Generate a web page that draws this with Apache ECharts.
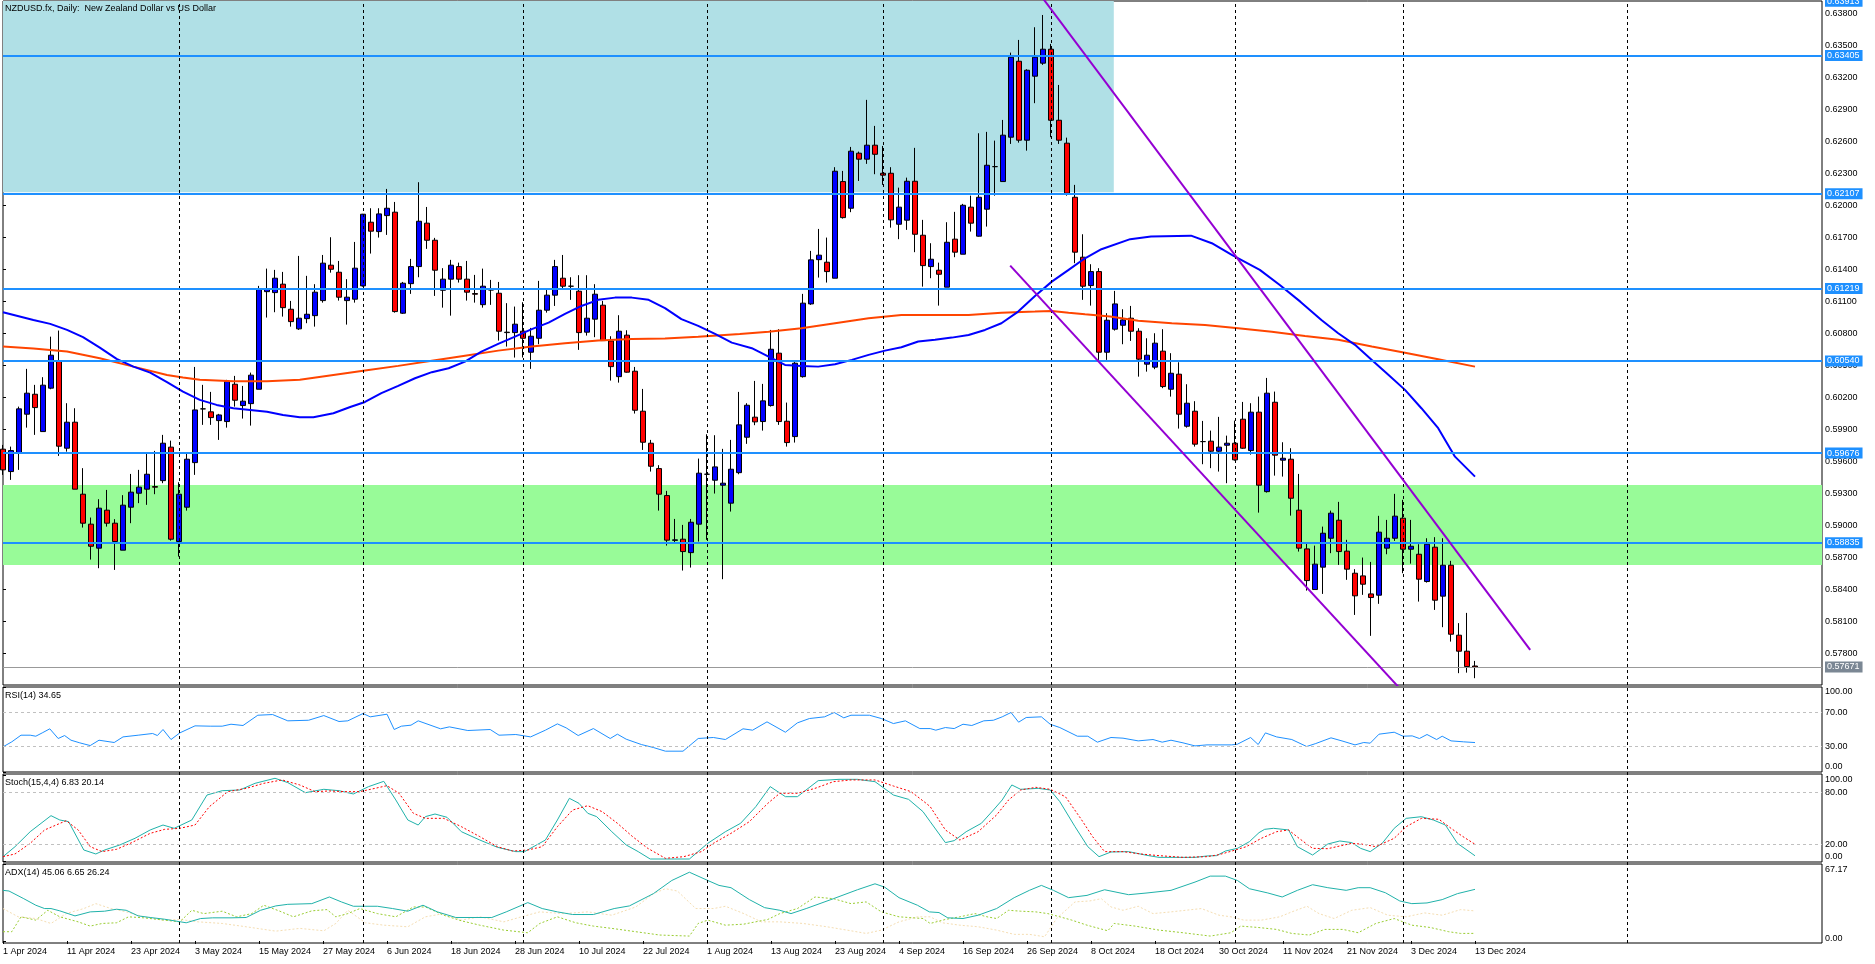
<!DOCTYPE html>
<html><head><meta charset="utf-8">
<script src="https://cdn.jsdelivr.net/npm/echarts@6/dist/echarts.min.js"></script>
<style>html,body{margin:0;padding:0;background:#fff}#c{width:1875px;height:964px}</style>
</head><body><div id="c"></div>
<script>
// ---------------- data ----------------
const xLabels = ['1 Apr 2024','11 Apr 2024','23 Apr 2024','3 May 2024','15 May 2024','27 May 2024','6 Jun 2024','18 Jun 2024','28 Jun 2024','10 Jul 2024','22 Jul 2024','1 Aug 2024','13 Aug 2024','23 Aug 2024','4 Sep 2024','16 Sep 2024','26 Sep 2024','8 Oct 2024','18 Oct 2024','30 Oct 2024','11 Nov 2024','21 Nov 2024','3 Dec 2024','13 Dec 2024'];
const monthStarts = [22,45,65,88,110,131,154,175,203];

const opens = [0.59713,0.59503,0.59681,0.60041,0.60228,0.59878,0.60285,0.60543,0.59722,0.59966,
0.59291,0.59010,0.58785,0.59141,0.59019,0.58766,0.59169,0.59300,0.59338,0.59362,
0.59418,0.59732,0.58847,0.59169,0.59587,0.60091,0.60063,0.59981,0.59972,0.60322,
0.60122,0.60140,0.60275,0.61190,0.61181,0.61260,0.61025,0.60841,0.60937,0.60965,
0.61106,0.61438,0.61372,0.61106,0.61119,0.61244,0.61841,0.61753,0.61903,0.61935,
0.60988,0.61265,0.61425,0.61832,0.61672,0.61203,0.61307,0.61425,0.61307,0.61172,
0.61068,0.61206,0.61175,0.60806,0.60806,0.60819,0.60622,0.60753,0.61016,0.61157,
0.61316,0.61241,0.61194,0.60810,0.60932,0.61063,0.60728,0.60393,0.60782,0.60444,
0.60069,0.59769,0.59531,0.59278,0.58858,0.58869,0.58743,0.59010,0.59478,0.59422,
0.59375,0.59207,0.59493,0.59825,0.60013,0.59972,0.60122,0.60613,0.59975,0.59831,
0.60393,0.61075,0.61490,0.61466,0.61316,0.62222,0.61972,0.62488,0.62432,0.62563,
0.62300,0.62300,0.61822,0.61860,0.62225,0.61719,0.61425,0.61391,0.61232,0.61682,
0.61541,0.61982,0.61710,0.61963,0.62362,0.62222,0.62638,0.63350,0.62610,0.63210,
0.63332,0.63463,0.62797,0.62582,0.62075,0.61513,0.61247,0.61378,0.60622,0.60838,
0.60875,0.60941,0.60819,0.60510,0.60482,0.60632,0.60275,0.60416,0.59928,0.60069,
0.59784,0.59788,0.59694,0.59750,0.59769,0.59994,0.59700,0.60060,0.59315,0.60153,
0.59610,0.59619,0.59141,0.58778,0.58397,0.58607,0.58878,0.59047,0.58757,0.58550,
0.58525,0.58356,0.58344,0.58785,0.58878,0.59066,0.58775,0.58728,0.58472,0.58794,
0.58335,0.58625,0.57969,0.57819,0.57680];
const closes = [0.59519,0.59700,0.60091,0.60238,0.60103,0.60313,0.60594,0.59741,0.59966,0.59338,
0.59019,0.58803,0.59160,0.59019,0.58847,0.59188,0.59310,0.59357,0.59478,0.59357,
0.59769,0.58869,0.59291,0.59619,0.60081,0.60091,0.60009,0.60034,0.60347,0.60172,
0.60163,0.60407,0.61213,0.61213,0.61316,0.61040,0.60909,0.60941,0.60978,0.61185,
0.61457,0.61400,0.61138,0.61138,0.61410,0.61916,0.61757,0.61919,0.61972,0.61003,
0.61269,0.61425,0.61850,0.61672,0.61391,0.61307,0.61438,0.61307,0.61185,0.61166,
0.61241,0.61206,0.60819,0.60810,0.60885,0.60753,0.60772,0.61016,0.61157,0.61425,
0.61241,0.61241,0.60806,0.60941,0.61166,0.60731,0.60487,0.60819,0.60435,0.60078,
0.59778,0.59553,0.59291,0.58860,0.58863,0.58753,0.59028,0.59488,0.59478,0.59547,
0.59394,0.59525,0.59941,0.60125,0.59969,0.60166,0.60650,0.59972,0.59775,0.60519,
0.61082,0.61488,0.61532,0.61378,0.62319,0.61884,0.62507,0.62432,0.62563,0.62478,
0.62282,0.61863,0.61982,0.62225,0.61728,0.61434,0.61494,0.61353,0.61653,0.61560,
0.62000,0.61832,0.62075,0.62375,0.62362,0.62657,0.63388,0.62610,0.63266,0.63388,
0.63463,0.62797,0.62610,0.62113,0.61560,0.61241,0.61378,0.60622,0.60922,0.61075,
0.60925,0.60819,0.60557,0.60594,0.60707,0.60300,0.60425,0.60041,0.60144,0.59760,
0.59784,0.59694,0.59732,0.59769,0.59613,0.59722,0.60060,0.59375,0.60238,0.59657,
0.59628,0.59253,0.58785,0.58481,0.58635,0.58925,0.59113,0.58753,0.58588,0.58338,
0.58447,0.58322,0.58935,0.58878,0.59085,0.58775,0.58803,0.58494,0.58822,0.58297,
0.58625,0.57978,0.57819,0.57675,0.57671];
const lows = [0.59472,0.59425,0.59519,0.59915,0.59847,0.59878,0.60275,0.59650,0.59690,0.59338,
0.58978,0.58678,0.58597,0.58987,0.58581,0.58766,0.59019,0.59207,0.59191,0.59291,
0.59394,0.58856,0.58706,0.59137,0.59472,0.59941,0.59941,0.59800,0.59915,0.60112,
0.60000,0.59934,0.60275,0.60947,0.60997,0.60956,0.60862,0.60831,0.60894,0.60862,
0.61087,0.61368,0.61106,0.60881,0.61087,0.61237,0.61547,0.61697,0.61722,0.60993,
0.60981,0.61169,0.61325,0.61591,0.61150,0.61040,0.60965,0.61275,0.61106,0.61087,
0.61040,0.61066,0.60731,0.60675,0.60572,0.60572,0.60466,0.60697,0.60993,0.61056,
0.61222,0.61113,0.60644,0.60778,0.60763,0.60728,0.60356,0.60337,0.60431,0.60047,
0.59706,0.59503,0.59137,0.58809,0.58832,0.58575,0.58603,0.58847,0.58863,0.59297,
0.58494,0.59128,0.59478,0.59763,0.59938,0.59887,0.60112,0.59941,0.59737,0.59775,
0.60384,0.61066,0.61322,0.61275,0.61316,0.61875,0.61935,0.62228,0.62388,0.62291,
0.62191,0.61790,0.61682,0.61769,0.61560,0.61237,0.61316,0.61059,0.61232,0.61513,
0.61541,0.61753,0.61706,0.61800,0.62090,0.62222,0.62575,0.62587,0.62512,0.62957,
0.63316,0.62638,0.62575,0.62090,0.61457,0.61113,0.61059,0.60550,0.60550,0.60825,
0.60697,0.60728,0.60393,0.60440,0.60463,0.60285,0.60206,0.59906,0.59915,0.59737,
0.59572,0.59535,0.59503,0.59394,0.59606,0.59716,0.59662,0.59118,0.59306,0.59465,
0.59456,0.59090,0.58753,0.58387,0.58397,0.58356,0.58738,0.58628,0.58488,0.58159,
0.58347,0.57963,0.58263,0.58728,0.58853,0.58550,0.58640,0.58284,0.58462,0.58206,
0.58044,0.57909,0.57613,0.57618,0.57566];
const highs = [0.59753,0.59737,0.60112,0.60466,0.60316,0.60388,0.60768,0.60825,0.60144,0.60097,
0.59535,0.59072,0.59244,0.59331,0.59057,0.59282,0.59481,0.59519,0.59675,0.59697,
0.59847,0.59793,0.59403,0.59669,0.60484,0.60316,0.60250,0.60044,0.60363,0.60400,
0.60306,0.60431,0.61244,0.61406,0.61394,0.61375,0.61103,0.61525,0.61338,0.61260,
0.61534,0.61700,0.61478,0.61307,0.61656,0.61919,0.61972,0.61972,0.62153,0.62031,
0.61281,0.61497,0.62216,0.61984,0.61694,0.61410,0.61488,0.61462,0.61478,0.61347,
0.61406,0.61300,0.61281,0.61082,0.61050,0.61091,0.60850,0.61291,0.61206,0.61488,
0.61534,0.61325,0.61344,0.61344,0.61260,0.61103,0.60772,0.60969,0.60828,0.60484,
0.60278,0.59800,0.59563,0.59322,0.59059,0.59003,0.59059,0.59625,0.59853,0.59844,
0.59716,0.59800,0.60250,0.60144,0.60353,0.60325,0.60831,0.60838,0.60150,0.60534,
0.61169,0.61572,0.61778,0.61697,0.62357,0.62322,0.62547,0.62503,0.62988,0.62744,
0.62556,0.62357,0.62165,0.62259,0.62538,0.61863,0.61644,0.61462,0.61841,0.61938,
0.62013,0.62090,0.62675,0.62688,0.62606,0.62800,0.63431,0.63550,0.63275,0.63669,
0.63784,0.63513,0.63128,0.62634,0.62191,0.61728,0.61447,0.61410,0.60988,0.61197,
0.61025,0.61056,0.60847,0.60753,0.60800,0.60838,0.60613,0.60528,0.60322,0.60163,
0.59978,0.59887,0.60016,0.59840,0.59981,0.60156,0.60144,0.60206,0.60381,0.60253,
0.59778,0.59722,0.59481,0.58825,0.58809,0.58987,0.59137,0.59219,0.58863,0.58588,
0.58697,0.58656,0.59088,0.59050,0.59294,0.59238,0.59050,0.58822,0.58878,0.58888,
0.58878,0.58666,0.58082,0.58178,0.57728];

const ma50 = [[0,0.60997],[3.8,0.60925],[5.9,0.60888],[8,0.60831],[10,0.60763],[12.1,0.60665],[14.2,0.60559],[16.3,0.60487],[18.4,0.60431],[20.5,0.60341],[22.5,0.60253],[24.6,0.60175],[26.7,0.60128],[28.8,0.60097],[30.9,0.60081],[33,0.60063],[35,0.60034],[37.1,0.60013],[38.8,0.60013],[41.3,0.60050],[43.4,0.60109],[45.25,0.60156],[47.3,0.60238],[49.4,0.60306],[51.5,0.60378],[53.6,0.60435],[55.7,0.60472],[57.75,0.60534],[59.8,0.60628],[61.9,0.60700],[64,0.60768],[66.1,0.60838],[68.2,0.60900],[70.25,0.60981],[72.3,0.61056],[74.4,0.61113],[76.5,0.61134],[78.6,0.61134],[80.7,0.61113],[82.75,0.61035],[84.8,0.60932],[86.9,0.60869],[89,0.60794],[91.1,0.60712],[93.6,0.60660],[95.7,0.60581],[97.75,0.60503],[99.8,0.60494],[101.9,0.60487],[104,0.60510],[106.1,0.60550],[108.2,0.60597],[110.25,0.60637],[112.3,0.60669],[114.4,0.60722],[116.5,0.60738],[118.6,0.60759],[120.7,0.60784],[122.75,0.60831],[124.8,0.60894],[126.9,0.61003],[129,0.61150],[131.1,0.61284],[133.2,0.61394],[135.25,0.61503],[137.3,0.61588],[140.9,0.61682],[143.5,0.61706],[148.5,0.61715],[151.1,0.61644],[153.6,0.61534],[157.1,0.61394],[159.6,0.61253],[162.2,0.61094],[164.8,0.60925],[166.9,0.60800],[169,0.60691],[171.1,0.60550],[173.2,0.60409],[175.25,0.60269],[177.3,0.60097],[179.4,0.59910],[181.5,0.59643],[184,0.59456]];
const ma200 = [[0,0.60675],[3.8,0.60656],[8,0.60628],[12.1,0.60566],[16.3,0.60487],[20.5,0.60409],[22.5,0.60384],[24.6,0.60363],[28.8,0.60350],[33,0.60350],[37.1,0.60365],[41.3,0.60409],[45.25,0.60450],[49.4,0.60494],[53.6,0.60543],[57.75,0.60590],[61.9,0.60637],[66.1,0.60675],[70.25,0.60707],[74.4,0.60731],[78.6,0.60747],[82.75,0.60750],[86.9,0.60768],[92.1,0.60794],[95.7,0.60815],[99.8,0.60847],[104,0.60894],[108.2,0.60941],[112.3,0.60972],[116.5,0.60972],[120.7,0.60972],[124.8,0.60993],[129,0.61003],[131.1,0.61009],[133.2,0.60993],[135.25,0.60978],[138.4,0.60958],[141.9,0.60918],[146.1,0.60894],[150.25,0.60878],[154.4,0.60847],[158.6,0.60815],[162.75,0.60775],[166.9,0.60738],[171.1,0.60675],[175.25,0.60618],[179.4,0.60557],[184,0.60487]];

const priceTicks = [0.578,0.581,0.584,0.587,0.590,0.593,0.596,0.599,0.602,0.605,0.608,0.611,0.614,0.617,0.620,0.623,0.626,0.629,0.632,0.635,0.638];
const levels = [0.63405,0.62107,0.61219,0.60540,0.59676,0.58835];
const topLevel = 0.63913;
const lastPrice = 0.57671;
const blueZone = {x0: 0, x1: 138.85, y0: 0.62122, y1: 0.63915};
const greenZone = {y0: 0.58628, y1: 0.59378};
const channelUpper = [[129.5,0.63989],[190.9,0.57831]];
const channelLower = [[125.9,0.61434],[176,0.57356]];

const rsi = [[0,29.6],[1.1,35.5],[2.25,43.3],[3.4,43.3],[4.1,42.1],[4.9,46.0],[5.85,50.8],[6.9,39.4],[7.7,42.9],[8.5,37.4],[9.6,34.3],[10.9,31.1],[12,37.4],[13.9,34.7],[15,41.3],[16.9,43.3],[18.7,45.3],[19.3,42.9],[20,50.0],[21,38.2],[22.1,46.0],[24,54.3],[25.9,53.9],[27.4,53.9],[28.5,56.2],[30,54.7],[31.85,66.8],[33.7,67.6],[35.6,60.2],[38.2,60.9],[40.1,66.4],[42,59.4],[43.1,60.2],[45,68.8],[45.9,64.9],[48,68.0],[48.9,50.0],[49.8,53.9],[51,55.1],[51.9,60.2],[54.7,50.8],[55.8,53.1],[58.1,48.8],[60.9,50.0],[62,43.3],[64.1,44.1],[65.95,41.3],[67.8,49.2],[69.3,56.6],[70.4,51.9],[71.9,42.9],[73.8,51.1],[75.9,39.4],[76.8,44.5],[77.9,38.6],[79.8,32.3],[81.3,28.8],[82.8,24.5],[85,24.5],[86.9,39.4],[88.8,40.6],[90.3,38.2],[92.5,50.8],[93.7,49.2],[95.5,59.0],[97.8,46.8],[99.3,57.8],[100.8,62.9],[102.7,64.9],[103.9,70.0],[105.1,63.7],[106,66.8],[108.3,66.8],[109.8,62.9],[111.3,57.0],[112.8,60.2],[114.6,51.1],[115.9,51.1],[116.6,49.2],[117.8,52.3],[118.9,51.1],[120,56.2],[121.1,54.7],[122.6,60.2],[123.8,60.9],[124.9,64.9],[126,70.0],[126.95,58.6],[127.9,64.1],[129.8,64.9],[130.9,56.2],[132.1,52.3],[134.3,42.1],[135.6,42.1],[136.8,35.1],[138.5,40.6],[140,39.8],[141.9,36.6],[143.75,38.2],[144.9,35.1],[146,37.4],[147.5,34.3],[149,30.7],[150.5,31.9],[153.55,31.9],[154.3,32.7],[155.95,40.6],[156.9,32.3],[157.8,46.0],[159.2,41.3],[161.1,38.2],[162.96,30.0],[164.1,33.5],[166,40.2],[167.5,36.2],[169,31.9],[170.1,34.7],[170.9,33.9],[172,44.5],[173.9,46.8],[175,42.1],[176.15,42.5],[177.05,39.4],[178,44.1],[179.2,38.2],[179.9,42.1],[181,36.6],[182.55,35.5],[184,34.65]];
const stochK = [[0,5.8],[1.5,17.3],[3.4,34.6],[6,53.1],[7.1,48.1],[8.2,46.2],[10.1,13.5],[11.6,8.9],[12.7,13.5],[14.6,19.3],[16.5,27.0],[18.4,36.6],[20,42.3],[21.4,38.5],[23.6,48.1],[25.5,76.9],[27.4,81.9],[29.6,82.7],[31.5,90.4],[34,96.2],[35.6,91.2],[37.8,79.6],[40.1,83.5],[42,81.9],[43.8,78.1],[45.7,86.6],[47.6,92.7],[49.1,71.2],[50.6,48.1],[51.9,42.3],[52.8,52.0],[54,55.0],[55.5,51.2],[57.3,34.6],[59.6,25.0],[61.8,16.6],[64.1,11.6],[65.2,11.6],[67.8,25.0],[69.3,48.1],[70.8,73.1],[72,67.3],[73.1,55.8],[74.2,52.0],[76.1,34.6],[77.9,19.3],[79.4,11.6],[80.9,3.1],[85.8,3.1],[88.1,21.2],[90.3,34.6],[92.2,44.3],[94.1,63.5],[95.9,86.6],[97.8,75.0],[99.3,75.0],[101.9,93.5],[104.5,95.0],[106.8,95.0],[109,92.3],[111.3,76.9],[113.2,71.9],[115,57.7],[115.9,46.2],[117.8,22.0],[118.9,24.3],[120.4,34.6],[122.3,44.3],[123.8,59.6],[124.9,71.2],[126.1,88.5],[127.2,83.5],[129.4,84.6],[130.9,82.7],[132.1,69.3],[134,40.4],[135.6,17.3],[137,5.8],[138.5,11.2],[140.7,11.6],[143,7.3],[144.5,5.0],[149,5.0],[150.5,6.6],[151.7,7.0],[152.8,12.3],[154.3,15.4],[155.8,23.1],[157,33.5],[157.7,37.3],[158.8,38.5],[160.7,36.6],[161.8,17.3],[163.7,7.7],[165.6,20.4],[167.1,23.9],[168.6,22.0],[169.7,15.4],[170.9,11.6],[172.4,21.2],[173.9,38.5],[175.4,50.0],[177.3,51.9],[178.8,48.1],[180.3,42.3],[181.8,21.2],[184,6.83]];
const stochD = [[0,5.8],[1.5,8.9],[3.4,21.2],[5.2,36.6],[7.9,47.3],[9.4,36.6],[10.9,17.3],[12.4,11.6],[14.2,14.3],[16.1,22.0],[18.4,32.7],[20.2,37.3],[22.1,38.5],[24,42.3],[25.8,63.5],[28.1,80.8],[30.4,84.6],[32.6,90.4],[34.9,94.3],[37.1,88.5],[39,80.8],[40.8,81.6],[42.7,80.8],[44.6,80.8],[46.5,84.6],[48,87.7],[49.5,78.9],[51.3,55.8],[52.8,50.0],[55.1,50.0],[57.3,40.4],[59.6,28.9],[61.8,17.3],[63.7,12.3],[65.6,13.5],[67.4,17.3],[69.3,40.4],[71.2,59.6],[73.1,64.6],[74.9,57.7],[76.8,44.3],[78.7,28.9],[80.6,15.4],[82.8,3.9],[85.1,5.8],[87.3,11.6],[88.8,21.2],[91,32.7],[93.3,46.2],[95.6,67.3],[97.1,78.9],[99.3,78.9],[101.5,84.6],[103.8,92.3],[106,94.3],[109,94.3],[111.3,87.3],[113.5,80.8],[115.4,67.3],[115.9,63.5],[117.8,36.6],[119.6,25.0],[121.9,34.6],[124.2,53.9],[125.7,71.2],[127.2,82.7],[129.1,85.8],[130.9,83.5],[132.8,75.0],[134.7,50.0],[136.2,28.9],[137.7,11.6],[140,11.6],[142.2,8.9],[144.5,7.0],[147.5,5.0],[150.5,5.8],[152,8.1],[153.5,12.0],[155.4,17.3],[157.3,27.0],[159.2,34.6],[160.7,36.6],[162,27.0],[163.7,15.4],[165.6,15.0],[167.1,18.1],[168.6,21.2],[170.1,20.0],[171.6,17.3],[173.9,27.0],[175.4,40.4],[177.3,50.0],[179.5,48.9],[181,38.5],[182.5,28.9],[184,20.14]];
const adx = [[0,44.2],[0.75,43.6],[2.6,36.9],[4.1,31.2],[5.2,28.3],[6,28.3],[7.1,26.3],[9,21.9],[10.9,25.4],[12.7,26.0],[14.2,27.7],[15.4,26.8],[16.9,21.9],[18.4,20.5],[20.2,19.0],[22.9,15.9],[24.7,19.6],[26.2,20.2],[28.5,20.2],[30.4,20.5],[32.2,26.8],[34.1,30.6],[35.6,32.0],[38.6,32.6],[40.8,38.4],[42.3,34.1],[43.8,30.3],[46.8,30.3],[48.7,28.3],[50.6,26.0],[52.5,31.2],[54.3,25.4],[56.6,20.5],[61.1,20.5],[62.9,25.4],[65.6,33.5],[67.4,28.3],[69.3,25.4],[71.2,23.1],[73.8,23.1],[76.4,28.3],[78.3,30.6],[81.3,41.3],[83.6,52.8],[85.8,60.0],[88.1,52.8],[89.5,48.5],[91,46.5],[93.3,36.1],[95.2,29.1],[97.1,26.8],[98.5,23.9],[100.4,28.3],[103.8,36.9],[106.8,44.7],[109,49.9],[110.2,47.0],[112,37.8],[114.3,31.2],[115.8,25.4],[117,24.8],[118.1,20.2],[120,19.6],[121.9,22.5],[124.2,28.3],[126.4,37.8],[128.3,44.2],[129.8,48.5],[131.3,44.2],[133.2,37.8],[135.5,39.8],[137.7,44.7],[140.7,40.4],[143,41.9],[146,44.2],[149,51.4],[150.9,56.6],[152.8,56.6],[154.3,52.8],[155.8,45.6],[158.1,41.9],[159.9,38.4],[161.8,44.2],[163.7,49.1],[165.6,46.5],[167.9,44.2],[169.4,46.5],[170.9,46.5],[172.8,42.1],[174.6,34.9],[176.1,32.6],[178,33.2],[179.9,36.1],[181.8,41.3],[184,45.06]];
const diPlus = [[0,8.1],[1.1,8.1],[2.25,21.1],[4.1,18.2],[5.6,26.8],[7.1,21.1],[9.4,16.7],[10.9,13.0],[12.4,15.3],[14.2,15.9],[15.7,21.1],[17.6,20.2],[20.2,18.2],[22.1,16.7],[23.6,26.8],[25.1,23.9],[27.4,26.0],[29.2,21.1],[31.1,23.9],[32.6,31.2],[34.5,26.3],[36.3,21.1],[38.6,26.3],[40.5,27.4],[41.6,21.1],[43.1,23.9],[44.6,28.3],[46.8,23.9],[49.1,21.1],[51.3,29.7],[52.8,29.7],[55.1,22.5],[57.3,17.6],[59.6,13.8],[62.6,9.5],[65.6,7.2],[67.1,15.3],[69.3,21.1],[71.6,15.9],[73.8,13.0],[76.1,11.0],[79.1,8.1],[82.1,5.2],[85.8,4.3],[86.9,15.3],[88.1,18.2],[90.3,13.8],[92.6,14.7],[95.6,18.8],[97.1,23.9],[99.3,28.3],[101.5,38.4],[103.8,36.9],[106,32.6],[107.9,34.1],[109.8,25.4],[112,21.1],[115,19.6],[115.9,15.3],[117.8,18.8],[119.6,21.1],[121.5,23.9],[123,21.1],[124.2,19.6],[125.7,26.8],[127.2,26.0],[129.1,25.4],[130.6,23.9],[132.1,21.1],[133.6,18.2],[135.5,13.8],[138.1,8.9],[138.9,15.3],[141.5,13.0],[144.5,9.5],[147.5,7.2],[150.9,4.3],[153.5,7.2],[154.7,13.0],[156.9,11.8],[159.2,10.1],[161.1,6.6],[163.3,5.2],[165.2,10.1],[167.5,10.1],[169.4,7.2],[171.6,15.3],[173.9,19.6],[176.1,13.8],[178.4,11.8],[180.7,8.1],[182.2,6.6],[184,6.65]];
const diMinus = [[0,28.3],[1.9,21.1],[4.1,19.6],[6,15.3],[7.9,23.9],[10.1,28.3],[11.6,32.6],[13.5,28.3],[15.4,25.4],[17.6,21.1],[19.9,18.2],[22.1,18.8],[24.4,16.7],[27.4,15.3],[30.4,12.4],[34.1,8.6],[37.1,11.0],[40.1,8.9],[41.6,15.3],[43.1,26.8],[45.3,15.9],[47.6,13.8],[50.6,12.4],[52.8,21.1],[55.1,23.9],[57.3,18.2],[59.6,21.1],[62.6,16.7],[64.8,21.1],[67.1,25.4],[70.1,23.9],[73.1,25.4],[76.1,22.5],[79.1,29.7],[81.3,41.3],[82.8,45.6],[84.3,43.6],[86.6,28.3],[88.8,28.3],[90.3,30.3],[92.6,23.9],[94.8,16.7],[97.1,16.7],[100,15.3],[103,12.4],[106,8.9],[107.9,6.6],[109.8,9.5],[112,16.7],[114.3,21.1],[115.9,21.1],[117.4,15.9],[119.6,13.8],[121.9,12.4],[124.2,9.5],[126.4,5.8],[128.3,5.8],[130.2,3.7],[131.7,19.6],[134,34.1],[135.8,34.9],[137.3,36.9],[138.5,29.7],[140,26.8],[141.9,30.3],[143.75,23.9],[146,25.4],[149.8,28.3],[152,22.5],[153.5,21.1],[155.1,18.2],[157.3,18.2],[159.6,21.1],[161.1,25.4],[163,30.3],[164.5,23.9],[166.4,19.6],[168.6,26.8],[170.9,29.1],[173.1,22.5],[175.4,21.1],[177.7,24.5],[179.9,22.5],[182.2,27.4],[184,26.24]];

const rsiLevels = [30,70], rsiTicks = [0,30,70,100];
const stochLevels = [20,80], stochTicks = [0,20,80,100];
const adxTicks = [0,67.17];
const titleMain = 'NZDUSD.fx, Daily:  New Zealand Dollar vs US Dollar';
const titleRsi = 'RSI(14) 34.65', titleStoch = 'Stoch(15,4,4) 6.83 20.14', titleAdx = 'ADX(14) 45.06 6.65 26.24';

// ---------------- layout / style ----------------
const FONT = 'Liberation Sans';
const LEFT = 3, WIDTH = 1819, PX_PER_BAR = 8;
const X_MAX = WIDTH / PX_PER_BAR;
const panels = [
  {top: 1, height: 684, min: 0.57502, max: 0.63915},
  {top: 687, height: 85, min: 0, max: 100},
  {top: 774, height: 88, min: -0.35, max: 101.15},
  {top: 864, height: 79, min: -1.745, max: 67.17}
];
const xTickVals = xLabels.map((_, i) => i * 8);
const candleData = opens.map((o, i) => [i, o, closes[i], lows[i], highs[i]]);

const grids = panels.map(p => ({left: LEFT, width: WIDTH, top: p.top, height: p.height, show: true,
  borderColor: '#000', borderWidth: 1, backgroundColor: 'transparent', containLabel: false, outerBoundsMode: 'none'}));
grids.push({left: LEFT, width: WIDTH, top: 1, height: 942, show: false, containLabel: false, outerBoundsMode: 'none'});

const xAxes = grids.map((g, gi) => ({
  type: 'value', gridIndex: gi, min: 0, max: X_MAX, show: gi === 3,
  axisLine: {show: false}, splitLine: {show: false},
  axisTick: {show: gi === 3, customValues: xTickVals, length: 3, lineStyle: {color: '#000'}},
  axisLabel: {show: gi === 3, customValues: xTickVals, align: 'left', margin: 4, fontSize: 9, color: '#000', fontFamily: FONT,
    formatter: v => xLabels[Math.round(v / 8)] || ''}
}));

const edgeRich = (top, bottom) => ({
  t: {padding: [top, 0, 0, 0], fontSize: 9, color: '#000', fontFamily: FONT},
  b: {padding: [0, 0, bottom, 0], fontSize: 9, color: '#000', fontFamily: FONT}
});
const yBase = (gi, ticks, fmt, rich) => ({
  type: 'value', gridIndex: gi, position: 'right', min: panels[gi].min, max: panels[gi].max,
  axisLine: {show: false}, splitLine: {show: false},
  axisTick: {show: true, customValues: ticks, length: 3, lineStyle: {color: '#000'}},
  axisLabel: {customValues: ticks, margin: 3, fontSize: 9, color: '#000', fontFamily: FONT, formatter: fmt, rich: rich}
});
const yAxes = [
  yBase(0, priceTicks, v => v.toFixed(5)),
  yBase(1, rsiTicks, v => v === 100 ? '{t|100.00}' : v === 0 ? '{b|0.00}' : v.toFixed(2), edgeRich(10, 11)),
  yBase(2, stochTicks, v => v === 100 ? '{t|100.00}' : v === 0 ? '{b|0.00}' : v.toFixed(2), edgeRich(9, 10)),
  yBase(3, adxTicks, v => v > 1 ? '{t|67.17}' : '{b|0.00}', edgeRich(12, 5)),
  {type: 'value', gridIndex: 4, min: 0, max: 1, show: false}
];

const priceLabel = (bg) => ({show: true, position: 'end', distance: 3, formatter: p => p.value.toFixed(5),
  backgroundColor: bg, color: '#fff', fontSize: 9, fontFamily: FONT, padding: [1, 3, 0, 2], lineHeight: 10, opacity: 1});

const lineS = (data, gi, color, width, type, z) => ({
  type: 'line', data: data, xAxisIndex: gi, yAxisIndex: gi, showSymbol: false, symbol: 'none', silent: true,
  lineStyle: {color: color, width: width, type: type || 'solid'}, z: z || 4, animation: false
});
const levelLines = (vals) => ({
  silent: true, symbol: ['none', 'none'], label: {show: false},
  lineStyle: {color: '#c0c0c0', type: [3, 3], width: 1},
  data: vals.map(v => ({yAxis: v}))
});

const series = [
  { // rectangles (background)
    type: 'line', data: [], xAxisIndex: 0, yAxisIndex: 0, z: 1, silent: true,
    markArea: {silent: true, data: [
      [{xAxis: blueZone.x0, yAxis: blueZone.y0, itemStyle: {color: '#B0E0E6'}}, {xAxis: blueZone.x1, yAxis: blueZone.y1}],
      [{xAxis: 0, yAxis: greenZone.y0, itemStyle: {color: '#98FB98'}}, {xAxis: X_MAX, yAxis: greenZone.y1}]
    ]}
  },
  { // vertical period separators across all panels
    type: 'line', data: [], xAxisIndex: 4, yAxisIndex: 4, z: 2, silent: true,
    markLine: {silent: true, symbol: ['none', 'none'], label: {show: false},
      lineStyle: {color: '#000', type: [3, 3], width: 1}, data: monthStarts.map(i => ({xAxis: i}))}
  },
  {
    type: 'candlestick', data: candleData, xAxisIndex: 0, yAxisIndex: 0, encode: {x: 0, y: [1, 2, 3, 4]},
    barWidth: 5, z: 3, silent: true,
    itemStyle: {color: '#0000FF', color0: '#FF0000', borderColor: '#000', borderColor0: '#000', borderColorDoji: '#000', borderWidth: 1}
  },
  lineS(ma200, 0, '#FF4500', 2),
  lineS(ma50, 0, '#0000FF', 2),
  lineS(channelUpper, 0, '#9400D3', 2, 'solid', 5),
  lineS(channelLower, 0, '#9400D3', 2, 'solid', 5),
  { // horizontal levels with price tags
    type: 'line', data: [], xAxisIndex: 0, yAxisIndex: 0, z: 6, silent: true, clip: false,
    markLine: {silent: true, symbol: ['none', 'none'], precision: 5,
      data: levels.map(v => ({yAxis: v, lineStyle: {color: '#1E90FF', width: 2, type: 'solid'}, label: priceLabel('#1E90FF')}))
        .concat([
          {yAxis: topLevel, lineStyle: {color: 'rgba(0,0,0,0)', width: 1, type: 'solid'}, label: priceLabel('#1E90FF')},
          {yAxis: lastPrice, lineStyle: {color: '#999999', width: 1, type: 'solid'}, label: priceLabel('#7B8794')}
        ])}
  },
  Object.assign(lineS(rsi, 1, '#1E90FF', 1), {markLine: levelLines(rsiLevels)}),
  Object.assign(lineS(stochK, 2, '#20B2AA', 1), {markLine: levelLines(stochLevels)}),
  lineS(stochD, 2, '#FF0000', 1, [2, 2]),
  lineS(diMinus, 3, '#F5DEB3', 1, [2, 2]),
  lineS(diPlus, 3, '#9ACD32', 1, [2, 2]),
  lineS(adx, 3, '#20B2AA', 1)
];

const ttl = (text, top) => ({text: text, left: 5, top: top, padding: 0,
  textStyle: {fontSize: 9, fontWeight: 'normal', color: '#000', fontFamily: FONT}});

const chart = echarts.init(document.getElementById('c'), null, {renderer: 'canvas'});
chart.setOption({
  animation: false,
  backgroundColor: '#fff',
  textStyle: {fontFamily: FONT},
  title: [ttl(titleMain, 4), ttl(titleRsi, 691), ttl(titleStoch, 778), ttl(titleAdx, 868)],
  grid: grids, xAxis: xAxes, yAxis: yAxes, series: series
});
</script></body></html>
